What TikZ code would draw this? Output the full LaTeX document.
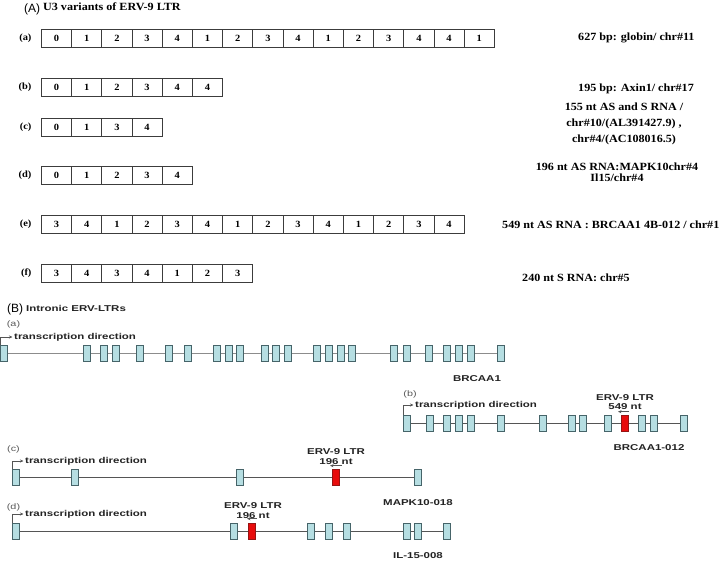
\documentclass[tikz,border=0pt]{standalone}
\usepackage{fontspec}
\setmainfont{Liberation Serif}
\newfontfamily\serifwide[FakeStretch=1.1]{Liberation Serif}
\newfontfamily\sanswide[FakeStretch=1.35]{Liberation Sans}
\newfontfamily\sansplain{Liberation Sans}
\usepackage{xcolor}
\usepackage{tikz}
\usetikzlibrary{arrows.meta, positioning, backgrounds}
\definecolor{ERVBoxLine}{RGB}{60, 60, 60}
\definecolor{ERVExonFill}{RGB}{182, 222, 226}
\definecolor{ERVExonLine}{RGB}{70, 100, 105}
\definecolor{ERVRed}{RGB}{232, 12, 12}
\definecolor{ERVRedLine}{RGB}{150, 20, 20}
\definecolor{ERVTrackGray}{RGB}{140, 140, 140}
\definecolor{ERVTrackDark}{RGB}{85, 85, 85}
\definecolor{ERVText}{RGB}{35, 35, 35}

\begin{document}
\begin{tikzpicture}[x=1pt,y=-1pt,
  u3cell/.style={draw=ERVBoxLine, line width=0.8pt, minimum width=30.2pt, minimum height=18pt,
    inner sep=0pt, anchor=west, font=\serifwide\fontsize{9.5}{10}\selectfont\bfseries},
  rowlab/.style={font=\serifwide\fontsize{9.5}{11}\selectfont\bfseries},
  sidetext/.style={font=\serifwide\fontsize{11}{12}\selectfont\bfseries, inner sep=0pt},
  exon/.style={draw=ERVExonLine, fill=ERVExonFill, line width=0.6pt, minimum width=6.5pt,
    minimum height=16pt, inner sep=0pt},
  ltrexon/.style={exon, draw=ERVRedLine, fill=ERVRed},
  track/.style={ERVTrackDark, line width=0.6pt},
  tdlab/.style={font=\sanswide\fontsize{8.5}{10}\selectfont\bfseries, text=ERVText, anchor=west,
    inner xsep=1.5pt, inner ysep=0pt},
  tdarrow/.style={ERVTrackDark, line width=0.6pt, -{Stealth[length=3.5pt,width=3pt]}},
  genelab/.style={font=\sanswide\fontsize{8.5}{9.5}\selectfont\bfseries, text=ERVText, inner sep=0pt},
  ltrlab/.style={genelab, align=center},
  sublab/.style={font=\sanswide\fontsize{8}{10}\selectfont, text=ERVText!75, inner sep=0pt},
]
  \path[use as bounding box] (0,0) rectangle (720,560);

  % (A) U3 variants
  \node[font=\sansplain\fontsize{12}{14}\selectfont, anchor=west, inner sep=0pt] (panelA) at (24,9) {(A)};
  \node[sidetext, anchor=west] (titleA) at (43,7) {U3 variants of ERV-9 LTR};
  \foreach \row/\yy/\vals in {a/38/{0,1,2,3,4,1,2,3,4,1,2,3,4,4,1}, b/87/{0,1,2,3,4,4},
      c/127/{0,1,3,4}, d/175.5/{0,1,2,3,4}, e/224.5/{3,4,1,2,3,4,1,2,3,4,1,2,3,4},
      f/273/{3,4,3,4,1,2,3}}{
    \foreach \v [count=\i] in \vals
      \node[u3cell] (u3-\row-\i) at ({41+30.2*(\i-1)},\yy) {\v};
    \node[rowlab, left=6pt of u3-\row-1] (lab-\row) {(\row)};
  }
  \node[sidetext, anchor=west] (src-a) at (578,38) {627 bp: globin/ chr\#11};
  \node[sidetext, anchor=west] (src-b) at (578,89) {195 bp: Axin1/ chr\#17};
  \node[sidetext, align=center, font=\serifwide\fontsize{11}{16}\selectfont\bfseries] (src-c) at (624,124)
    {155 nt AS and S RNA /\\chr\#10/(AL391427.9) ,\\chr\#4/(AC108016.5)};
  \node[sidetext, align=center, font=\serifwide\fontsize{11}{10.5}\selectfont\bfseries] (src-d) at (617,172)
    {196 nt AS RNA:MAPK10chr\#4\\Il15/chr\#4};
  \node[sidetext, anchor=west] (src-e) at (502,225) {549 nt AS RNA : BRCAA1 4B-012 / chr\#1};
  \node[sidetext, anchor=west] (src-f) at (522,278) {240 nt S RNA: chr\#5};

  % (B) intronic ERV-LTRs
  \node[font=\sansplain\fontsize{12}{14}\selectfont, anchor=west, inner sep=0pt] (panelB) at (7,309) {(B)};
  \node[genelab, anchor=west] (titleB) at (26,308) {Intronic ERV-LTRs};

  % track a
  \node[sublab] (sub-a) at (13.5,324) {(a)};
  \foreach \xx [count=\i] in {4,87,104,116,140,169,188,217,229,240,265,276,288,317,329,341,352,
      394,407,429,447,459,471,501}
    \node[exon] (ea-\i) at (\xx,353) {};
  \node[tdlab] (td-a) at (12.5,337) {transcription direction};
  \draw[tdarrow] (ea-1.north west) |- (td-a.west);
  \node[genelab] (gene-a) at (477,379) {BRCAA1};

  % track b
  \node[sublab] (sub-b) at (410,394) {(b)};
  \foreach \xx [count=\i] in {407,430,447,459,471,501,543,572,583,608,642,654,684}
    \node[exon] (eb-\i) at (\xx,423) {};
  \node[ltrexon] (ltr-b) at (625,423) {};
  \node[tdlab] (td-b) at (413.5,405) {transcription direction};
  \draw[tdarrow] (eb-1.north west) |- (td-b.west);
  \node[ltrlab] (lab-ltr-b) at (625,402) {ERV-9 LTR\\549 nt};
  \draw[tdarrow] ([shift={(4,-3)}]ltr-b.north) -- ([shift={(-7,-3)}]ltr-b.north);
  \node[genelab] (gene-b) at (649,448) {BRCAA1-012};

  % track c
  \node[sublab] (sub-c) at (13.5,449) {(c)};
  \foreach \xx [count=\i] in {16,75,240,418}
    \node[exon] (ec-\i) at (\xx,477) {};
  \node[ltrexon] (ltr-c) at (336,477) {};
  \node[tdlab] (td-c) at (23.5,461) {transcription direction};
  \draw[tdarrow] (ec-1.north west) |- (td-c.west);
  \node[ltrlab] (lab-ltr-c) at (336,456.5) {ERV-9 LTR\\196 nt};
  \draw[tdarrow] ([shift={(6,-3)}]ltr-c.north) -- ([shift={(-6,-3)}]ltr-c.north);
  \node[genelab] (gene-c) at (418,503) {MAPK10-018};

  % track d
  \node[sublab] (sub-d) at (13.5,507) {(d)};
  \foreach \xx [count=\i] in {16,234,311,329,347,407,418,447}
    \node[exon] (ed-\i) at (\xx,531) {};
  \node[ltrexon] (ltr-d) at (252,531) {};
  \node[tdlab] (td-d) at (23.5,514) {transcription direction};
  \draw[tdarrow] (ed-1.north west) |- (td-d.west);
  \node[ltrlab] (lab-ltr-d) at (253,510.5) {ERV-9 LTR\\196 nt};
  \draw[tdarrow] ([shift={(5,-4)}]ltr-d.north) -- ([shift={(-5,-4)}]ltr-d.north);
  \node[genelab] (gene-d) at (418,556) {IL-15-008};

  \begin{scope}[on background layer]
    \fill[white] (0,0) rectangle (720,560);
    \draw[track, ERVTrackGray, line width=1pt] (ea-1) -- (ea-24);
    \draw[track] (eb-1) -- (eb-13);
    \draw[track] (ec-1) -- (ec-4);
    \draw[track] (ed-1) -- (ed-8);
  \end{scope}
\end{tikzpicture}
\end{document}
